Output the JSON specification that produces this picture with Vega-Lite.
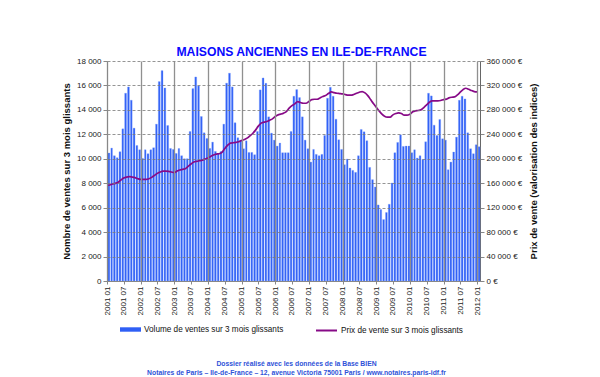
{
  "$schema": "https://vega.github.io/schema/vega-lite/v6.json",
  "width": 373,
  "height": 220,
  "autosize": "none",
  "padding": {"left": 107, "top": 61, "right": 120, "bottom": 96},
  "background": "white",
  "title": {
    "text": "MAISONS ANCIENNES EN ILE-DE-FRANCE",
    "anchor": "middle",
    "dx": 8,
    "offset": -1,
    "fontSize": 12.2,
    "fontWeight": "bold",
    "color": "#0a0aff",
    "font": "Liberation Sans"
  },
  "data": {
    "values": [
      {"m": "2001-01-01", "volume": 10466, "prix": 156500},
      {"m": "2001-02-01", "volume": 10874, "prix": 157100},
      {"m": "2001-03-01", "volume": 10248, "prix": 158700},
      {"m": "2001-04-01", "volume": 10085, "prix": 159800},
      {"m": "2001-05-01", "volume": 10574, "prix": 161400},
      {"m": "2001-06-01", "volume": 12451, "prix": 165250},
      {"m": "2001-07-01", "volume": 15362, "prix": 168500},
      {"m": "2001-08-01", "volume": 15878, "prix": 170100},
      {"m": "2001-09-01", "volume": 14790, "prix": 170700},
      {"m": "2001-10-01", "volume": 12506, "prix": 170100},
      {"m": "2001-11-01", "volume": 11091, "prix": 169100},
      {"m": "2001-12-01", "volume": 10738, "prix": 167400},
      {"m": "2002-01-01", "volume": 10030, "prix": 166300},
      {"m": "2002-02-01", "volume": 10738, "prix": 166300},
      {"m": "2002-03-01", "volume": 10411, "prix": 166300},
      {"m": "2002-04-01", "volume": 10738, "prix": 167400},
      {"m": "2002-05-01", "volume": 10901, "prix": 169600},
      {"m": "2002-06-01", "volume": 12832, "prix": 172900},
      {"m": "2002-07-01", "volume": 16314, "prix": 176100},
      {"m": "2002-08-01", "volume": 17211, "prix": 178300},
      {"m": "2002-09-01", "volume": 15797, "prix": 179900},
      {"m": "2002-10-01", "volume": 12723, "prix": 179900},
      {"m": "2002-11-01", "volume": 10846, "prix": 179400},
      {"m": "2002-12-01", "volume": 10765, "prix": 178300},
      {"m": "2003-01-01", "volume": 10438, "prix": 177200},
      {"m": "2003-02-01", "volume": 10846, "prix": 179900},
      {"m": "2003-03-01", "volume": 10248, "prix": 181600},
      {"m": "2003-04-01", "volume": 10003, "prix": 182700},
      {"m": "2003-05-01", "volume": 10003, "prix": 183800},
      {"m": "2003-06-01", "volume": 12234, "prix": 187500},
      {"m": "2003-07-01", "volume": 15742, "prix": 191400},
      {"m": "2003-08-01", "volume": 16694, "prix": 194600},
      {"m": "2003-09-01", "volume": 15960, "prix": 195800},
      {"m": "2003-10-01", "volume": 13458, "prix": 196800},
      {"m": "2003-11-01", "volume": 12125, "prix": 197900},
      {"m": "2003-12-01", "volume": 11662, "prix": 199500},
      {"m": "2004-01-01", "volume": 10846, "prix": 201200},
      {"m": "2004-02-01", "volume": 11363, "prix": 203900},
      {"m": "2004-03-01", "volume": 10602, "prix": 206100},
      {"m": "2004-04-01", "volume": 10438, "prix": 207700},
      {"m": "2004-05-01", "volume": 10602, "prix": 208200},
      {"m": "2004-06-01", "volume": 12832, "prix": 210400},
      {"m": "2004-07-01", "volume": 16186, "prix": 216400},
      {"m": "2004-08-01", "volume": 17003, "prix": 221800},
      {"m": "2004-09-01", "volume": 15878, "prix": 225600},
      {"m": "2004-10-01", "volume": 12941, "prix": 226200},
      {"m": "2004-11-01", "volume": 11717, "prix": 226700},
      {"m": "2004-12-01", "volume": 11526, "prix": 227800},
      {"m": "2005-01-01", "volume": 10819, "prix": 230000},
      {"m": "2005-02-01", "volume": 11472, "prix": 231600},
      {"m": "2005-03-01", "volume": 10520, "prix": 233800},
      {"m": "2005-04-01", "volume": 10520, "prix": 237600},
      {"m": "2005-05-01", "volume": 10330, "prix": 241400},
      {"m": "2005-06-01", "volume": 12234, "prix": 246900},
      {"m": "2005-07-01", "volume": 15634, "prix": 253400},
      {"m": "2005-08-01", "volume": 16612, "prix": 258300},
      {"m": "2005-09-01", "volume": 16171, "prix": 259900},
      {"m": "2005-10-01", "volume": 13430, "prix": 261000},
      {"m": "2005-11-01", "volume": 12098, "prix": 263200},
      {"m": "2005-12-01", "volume": 11526, "prix": 265300},
      {"m": "2006-01-01", "volume": 11037, "prix": 269200},
      {"m": "2006-02-01", "volume": 11282, "prix": 271900},
      {"m": "2006-03-01", "volume": 10493, "prix": 273000},
      {"m": "2006-04-01", "volume": 10493, "prix": 274600},
      {"m": "2006-05-01", "volume": 10493, "prix": 277300},
      {"m": "2006-06-01", "volume": 12234, "prix": 282800},
      {"m": "2006-07-01", "volume": 15117, "prix": 287100},
      {"m": "2006-08-01", "volume": 15661, "prix": 289800},
      {"m": "2006-09-01", "volume": 15008, "prix": 293600},
      {"m": "2006-10-01", "volume": 13430, "prix": 292000},
      {"m": "2006-11-01", "volume": 11526, "prix": 290900},
      {"m": "2006-12-01", "volume": 10819, "prix": 290900},
      {"m": "2007-01-01", "volume": 9731, "prix": 293600},
      {"m": "2007-02-01", "volume": 10765, "prix": 296900},
      {"m": "2007-03-01", "volume": 10357, "prix": 297400},
      {"m": "2007-04-01", "volume": 10248, "prix": 297400},
      {"m": "2007-05-01", "volume": 10357, "prix": 299600},
      {"m": "2007-06-01", "volume": 11907, "prix": 301800},
      {"m": "2007-07-01", "volume": 14954, "prix": 303400},
      {"m": "2007-08-01", "volume": 15851, "prix": 306700},
      {"m": "2007-09-01", "volume": 15117, "prix": 309400},
      {"m": "2007-10-01", "volume": 13240, "prix": 308300},
      {"m": "2007-11-01", "volume": 11554, "prix": 307200},
      {"m": "2007-12-01", "volume": 10765, "prix": 306700},
      {"m": "2008-01-01", "volume": 9514, "prix": 306100},
      {"m": "2008-02-01", "volume": 9976, "prix": 305100},
      {"m": "2008-03-01", "volume": 9242, "prix": 304000},
      {"m": "2008-04-01", "volume": 9051, "prix": 304000},
      {"m": "2008-05-01", "volume": 8888, "prix": 305100},
      {"m": "2008-06-01", "volume": 10248, "prix": 307200},
      {"m": "2008-07-01", "volume": 12397, "prix": 308900},
      {"m": "2008-08-01", "volume": 12206, "prix": 310000},
      {"m": "2008-09-01", "volume": 11472, "prix": 307800},
      {"m": "2008-10-01", "volume": 9296, "prix": 303400},
      {"m": "2008-11-01", "volume": 8290, "prix": 296900},
      {"m": "2008-12-01", "volume": 7691, "prix": 290400},
      {"m": "2009-01-01", "volume": 6222, "prix": 284400},
      {"m": "2009-02-01", "volume": 5842, "prix": 278400},
      {"m": "2009-03-01", "volume": 5026, "prix": 273500},
      {"m": "2009-04-01", "volume": 5597, "prix": 269700},
      {"m": "2009-05-01", "volume": 6277, "prix": 268100},
      {"m": "2009-06-01", "volume": 8018, "prix": 268100},
      {"m": "2009-07-01", "volume": 10493, "prix": 271900},
      {"m": "2009-08-01", "volume": 11336, "prix": 274000},
      {"m": "2009-09-01", "volume": 11962, "prix": 275100},
      {"m": "2009-10-01", "volume": 11010, "prix": 274000},
      {"m": "2009-11-01", "volume": 11037, "prix": 271300},
      {"m": "2009-12-01", "volume": 11037, "prix": 271300},
      {"m": "2010-01-01", "volume": 10493, "prix": 273000},
      {"m": "2010-02-01", "volume": 10738, "prix": 276800},
      {"m": "2010-03-01", "volume": 10058, "prix": 278400},
      {"m": "2010-04-01", "volume": 10248, "prix": 279000},
      {"m": "2010-05-01", "volume": 9949, "prix": 280000},
      {"m": "2010-06-01", "volume": 11390, "prix": 283800},
      {"m": "2010-07-01", "volume": 15362, "prix": 288200},
      {"m": "2010-08-01", "volume": 15144, "prix": 292550},
      {"m": "2010-09-01", "volume": 12750, "prix": 294700},
      {"m": "2010-10-01", "volume": 11907, "prix": 294700},
      {"m": "2010-11-01", "volume": 13213, "prix": 294700},
      {"m": "2010-12-01", "volume": 11635, "prix": 295300},
      {"m": "2011-01-01", "volume": 11526, "prix": 296900},
      {"m": "2011-02-01", "volume": 9106, "prix": 297500},
      {"m": "2011-03-01", "volume": 9731, "prix": 299600},
      {"m": "2011-04-01", "volume": 10547, "prix": 300700},
      {"m": "2011-05-01", "volume": 11771, "prix": 301200},
      {"m": "2011-06-01", "volume": 14790, "prix": 304500},
      {"m": "2011-07-01", "volume": 15117, "prix": 308900},
      {"m": "2011-08-01", "volume": 14899, "prix": 313200},
      {"m": "2011-09-01", "volume": 12125, "prix": 315400},
      {"m": "2011-10-01", "volume": 10819, "prix": 313800},
      {"m": "2011-11-01", "volume": 10411, "prix": 311600},
      {"m": "2011-12-01", "volume": 11146, "prix": 310000},
      {"m": "2012-01-01", "volume": 10983, "prix": 309400}
    ]
  },
  "encoding": {
    "x": {
      "field": "m",
      "timeUnit": "utcyearmonth",
      "type": "temporal",
      "scale": {"domain": [978307200000, 1328054400000]},
      "axis": {
        "values": [978307200000, 993945600000, 1009843200000, 1025481600000, 1041379200000, 1057017600000, 1072915200000, 1088640000000, 1104537600000, 1120176000000, 1136073600000, 1151712000000, 1167609600000, 1183248000000, 1199145600000, 1214870400000, 1230768000000, 1246406400000, 1262304000000, 1277942400000, 1293840000000, 1309478400000, 1325376000000],
        "labelExpr": "utcFormat(datum.value, '%Y %m')",
        "labelAngle": 270,
        "labelFontSize": 8,
        "labelColor": "#222",
        "labelPadding": 2,
        "labelOverlap": false,
        "labelFlush": false,
        "tickSize": 3,
        "tickColor": "#888",
        "domainColor": "#888",
        "grid": true,
        "gridColor": "#909090",
        "gridWidth": 1.3,
        "gridOpacity": {"condition": {"test": "utcmonth(datum.value) == 0", "value": 1}, "value": 0},
        "zindex": 1,
        "title": ["Dossier réalisé avec les données de la Base BIEN", "Notaires de Paris – Ile-de-France – 12, avenue Victoria 75001 Paris / www.notaires.paris-idf.fr"],
        "titleFontSize": 6.8,
        "titleFontWeight": "bold",
        "titleColor": "#2f52d8",
        "titleX": 189,
        "titleY": 84,
        "titleAlign": "center",
        "titleBaseline": "alphabetic",
        "titleLineHeight": 9
      }
    }
  },
  "layer": [
    {
      "mark": {"type": "bar", "fill": "#2f5ff5", "stroke": "#7c9eff", "strokeWidth": 0.35},
      "encoding": {
        "y": {
          "field": "volume",
          "type": "quantitative",
          "scale": {"domain": [0, 18000]},
          "axis": {
            "values": [0, 2000, 4000, 6000, 8000, 10000, 12000, 14000, 16000, 18000],
            "labelExpr": "replace(format(datum.value, ','), ',', ' ')",
            "labelFontSize": 8,
            "labelColor": "#222",
            "labelPadding": 2,
            "tickSize": 4,
            "tickColor": "#888",
            "domainColor": "#888",
            "grid": true,
            "gridColor": "#7a7a7a",
            "gridDash": [3, 2],
            "gridWidth": 0.8,
            "zindex": 1,
            "title": "Nombre de ventes sur 3 mois glissants",
            "titleFontSize": 9.5,
            "titleFontWeight": "bold",
            "titleColor": "#111",
            "titlePadding": 5
          }
        },
        "color": {
          "datum": "Volume de ventes sur 3 mois glissants",
          "scale": {"range": ["#2f5ff5"]},
          "legend": {
            "orient": "none",
            "legendX": 13,
            "legendY": 258,
            "title": null,
            "padding": 0,
            "symbolType": "M-1,-0.21H1V0.21H-1Z",
            "symbolSize": 441,
            "symbolStrokeWidth": 0,
            "labelFontSize": 8.2,
            "labelColor": "#111",
            "labelOffset": 3
          }
        }
      }
    },
    {
      "mark": {"type": "line", "strokeWidth": 1.7, "interpolate": "monotone", "timeUnitBandPosition": 0.5},
      "encoding": {
        "y": {
          "field": "prix",
          "type": "quantitative",
          "scale": {"domain": [0, 360000]},
          "axis": {
            "orient": "right",
            "values": [0, 40000, 80000, 120000, 160000, 200000, 240000, 280000, 320000, 360000],
            "labelExpr": "replace(format(datum.value, ','), ',', ' ') + ' €'",
            "labelFontSize": 8,
            "labelColor": "#222",
            "labelPadding": 2,
            "tickSize": 4,
            "tickColor": "#888",
            "domainColor": "#666",
            "grid": false,
            "title": "Prix de vente (valorisation des indices)",
            "titleAngle": 270,
            "titleFontSize": 9.5,
            "titleFontWeight": "bold",
            "titleColor": "#111",
            "titlePadding": 17
          }
        },
        "stroke": {
          "datum": "Prix de vente sur 3 mois glissants",
          "scale": {"range": ["#870a87"]},
          "legend": {
            "orient": "none",
            "legendX": 208,
            "legendY": 258,
            "title": null,
            "padding": 0,
            "symbolType": "stroke",
            "symbolSize": 441,
            "symbolStrokeWidth": 2,
            "labelFontSize": 8.2,
            "labelColor": "#111",
            "labelOffset": 3
          }
        }
      }
    }
  ],
  "resolve": {"scale": {"y": "independent"}},
  "config": {
    "font": "Liberation Sans",
    "view": {"stroke": null}
  }
}
